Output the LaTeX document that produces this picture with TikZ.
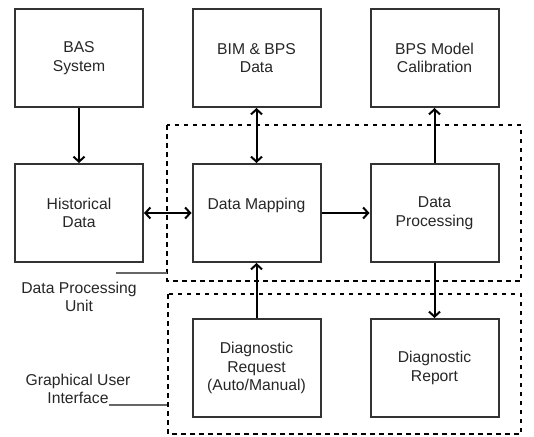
\documentclass[tikz,border=0pt]{standalone}
\usepackage{fontspec}
\setmainfont{Liberation Sans}
\usetikzlibrary{arrows.meta}
\begin{document}
\begin{tikzpicture}[x=1pt,y=-1pt,
  box/.style={draw=black!80, line width=2pt, minimum width=128pt, minimum height=98pt,
    align=center, inner sep=0pt, font=\fontsize{15.7}{18.5}\selectfont, text=black!85},
  grp/.style={draw=black, line width=2pt, dash pattern=on 4.5pt off 4.5pt},
  arr/.style={line width=2pt, -{Straight Barb[length=5pt,width=11pt,line width=2pt]}},
  darr/.style={line width=2pt, {Straight Barb[length=5pt,width=11pt,line width=2pt]}-{Straight Barb[length=5pt,width=11pt,line width=2pt]}},
  lbl/.style={align=center, inner sep=0pt, font=\fontsize{15.7}{18}\selectfont, text=black!85},
  lead/.style={draw=black!60, line width=2pt}]
\useasboundingbox (0,0) rectangle (534,436);
% group frames
\draw[grp] (167,125) rectangle (521,281);
\draw[grp] (168,294) rectangle (521,434);
% boxes
\node[box] (bas)  at (79,58)    {BAS\\System};
\node[box] (bim)  at (256.5,58) {BIM \& BPS\\Data};
\node[box] (cal)  at (434.5,58) {BPS Model\\Calibration};
\node[box] (hist) at (79,213)   {Historical\\Data};
\node[box] (map)  at (256.5,213){Data Mapping\\~};
\node[box] (proc) at (434.5,213){Data\\Processing};
\node[box] (req)  at (256.5,368){Diagnostic\\Request\\(Auto/Manual)};
\node[box] (rep)  at (434.5,368){Diagnostic\\Report};
% connectors
\draw[arr]  (bas.south) -- (hist.north);
\draw[darr] (map.north) -- (bim.south);
\draw[arr]  (proc.north) -- (cal.south);
\draw[darr] (hist.east) -- (map.west);
\draw[arr]  (map.east) -- (proc.west);
\draw[arr]  (req.north) -- (map.south);
\draw[arr]  (proc.south) -- (rep.north);
% labels
\node[lbl] (dpu) at (79,297) {Data Processing\\Unit};
\node[lbl] (gui) at (78,389) {Graphical User\\Interface};
\coordinate (dpuA) at (116,273);
\coordinate (dpuB) at (167,273);
\coordinate (guiA) at (109,405);
\coordinate (guiB) at (167,405);
\draw[lead] (dpuA) -- (dpuB);
\draw[lead] (guiA) -- (guiB);
\end{tikzpicture}
\end{document}
